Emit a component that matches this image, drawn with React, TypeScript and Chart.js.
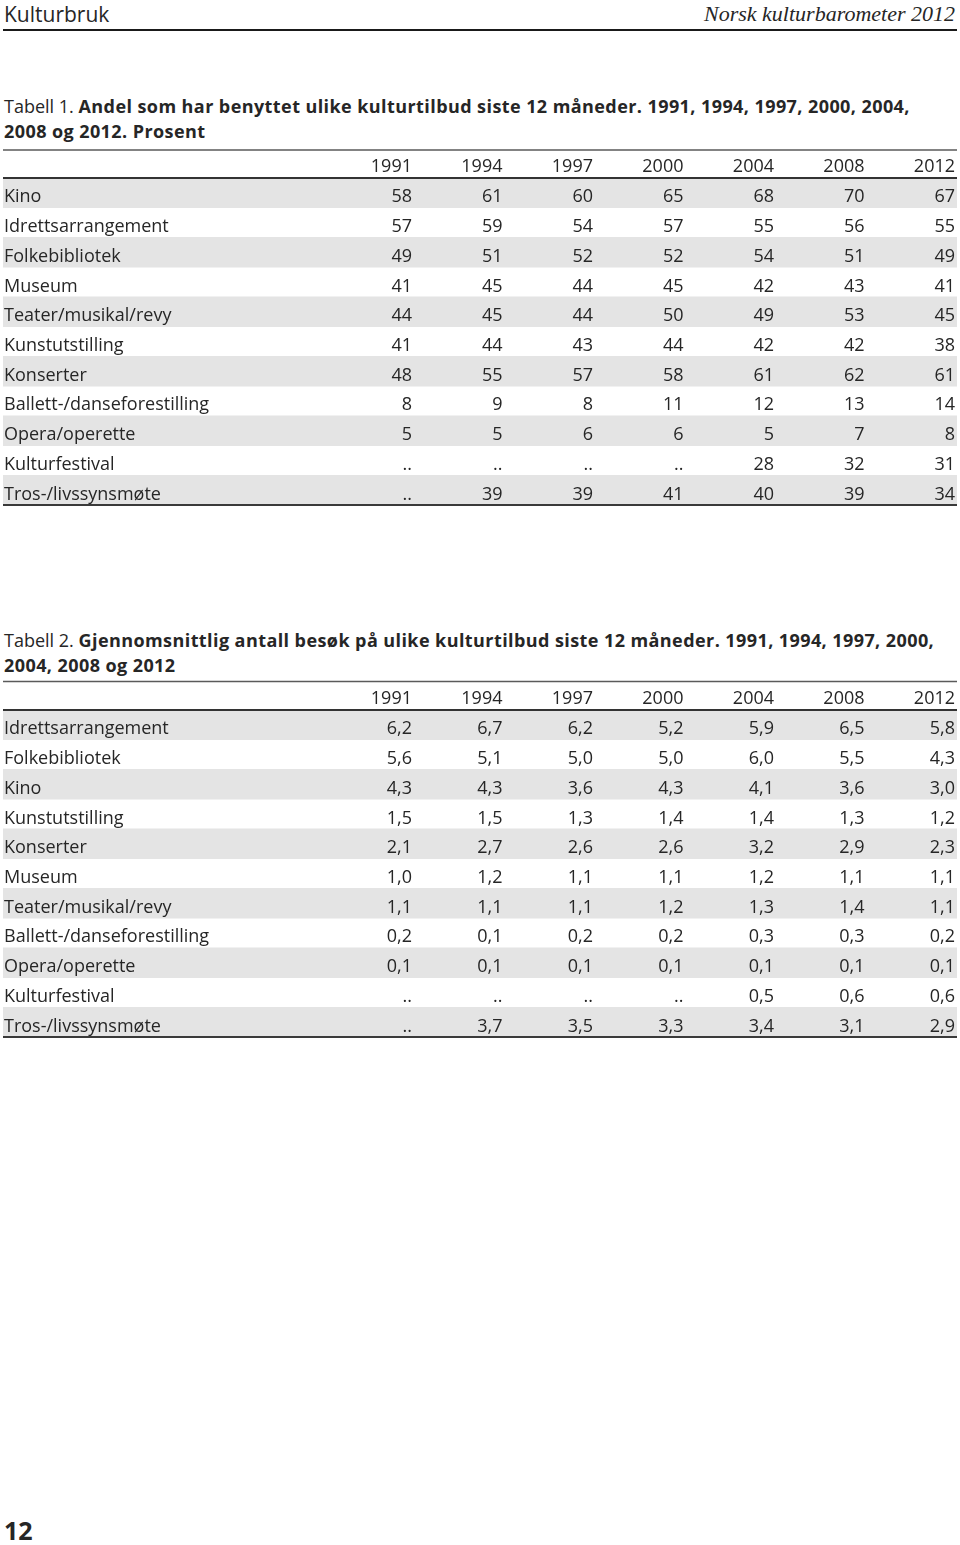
import React, { useEffect, useRef } from 'react';
import { Chart, registerables } from 'chart.js';

Chart.register(...registerables);

// ---------- data ----------
const years = ['1991', '1994', '1997', '2000', '2004', '2008', '2012'];

const t1Rows = [
  'Kino',
  'Idrettsarrangement',
  'Folkebibliotek',
  'Museum',
  'Teater/musikal/revy',
  'Kunstutstilling',
  'Konserter',
  'Ballett-/danseforestilling',
  'Opera/operette',
  'Kulturfestival',
  'Tros-/livssynsmøte',
];
const t1v1991 = [58, 57, 49, 41, 44, 41, 48, 8, 5, null, null];
const t1v1994 = [61, 59, 51, 45, 45, 44, 55, 9, 5, null, 39];
const t1v1997 = [60, 54, 52, 44, 44, 43, 57, 8, 6, null, 39];
const t1v2000 = [65, 57, 52, 45, 50, 44, 58, 11, 6, null, 41];
const t1v2004 = [68, 55, 54, 42, 49, 42, 61, 12, 5, 28, 40];
const t1v2008 = [70, 56, 51, 43, 53, 42, 62, 13, 7, 32, 39];
const t1v2012 = [67, 55, 49, 41, 45, 38, 61, 14, 8, 31, 34];

const t2Rows = [
  'Idrettsarrangement',
  'Folkebibliotek',
  'Kino',
  'Kunstutstilling',
  'Konserter',
  'Museum',
  'Teater/musikal/revy',
  'Ballett-/danseforestilling',
  'Opera/operette',
  'Kulturfestival',
  'Tros-/livssynsmøte',
];
const t2v1991 = [6.2, 5.6, 4.3, 1.5, 2.1, 1.0, 1.1, 0.2, 0.1, null, null];
const t2v1994 = [6.7, 5.1, 4.3, 1.5, 2.7, 1.2, 1.1, 0.1, 0.1, null, 3.7];
const t2v1997 = [6.2, 5.0, 3.6, 1.3, 2.6, 1.1, 1.1, 0.2, 0.1, null, 3.5];
const t2v2000 = [5.2, 5.0, 4.3, 1.4, 2.6, 1.1, 1.2, 0.2, 0.1, null, 3.3];
const t2v2004 = [5.9, 6.0, 4.1, 1.4, 3.2, 1.2, 1.3, 0.3, 0.1, 0.5, 3.4];
const t2v2008 = [6.5, 5.5, 3.6, 1.3, 2.9, 1.1, 1.4, 0.3, 0.1, 0.6, 3.1];
const t2v2012 = [5.8, 4.3, 3.0, 1.2, 2.3, 1.1, 1.1, 0.2, 0.1, 0.6, 2.9];

const t1Cols = [t1v1991, t1v1994, t1v1997, t1v2000, t1v2004, t1v2008, t1v2012];
const t2Cols = [t2v1991, t2v1994, t2v1997, t2v2000, t2v2004, t2v2008, t2v2012];

// ---------- styles ----------
const FONT = '"Open Sans", "Noto Sans", sans-serif';
const TEXT = '#262626';
const STRIPE = '#e4e4e4';
const X_MIN = -3.519;
const X_MAX = 7.022;

if (typeof document !== 'undefined') {
  document.body.style.margin = '0';
}

type Props = {
  rows: string[];
  cols: (number | null)[][];
  decimals: number;
  topRuleY: number;
};

function TableChart({ rows, cols, decimals, topRuleY }: Props) {
  const ref = useRef<HTMLCanvasElement | null>(null);

  useEffect(() => {
    if (!ref.current) return;
    const fmt = (v: number | null) =>
      v == null ? '..' : decimals > 0 ? v.toFixed(decimals).replace('.', ',') : String(v);

    const cellPlugin = {
      id: 'tableCells',
      afterDatasetsDraw(chart: any) {
        const { ctx, chartArea: ca, scales } = chart;
        const x = scales.x;
        const y = scales.y;
        ctx.save();
        ctx.font = `18px ${FONT}`;
        ctx.fillStyle = TEXT;
        ctx.textBaseline = 'alphabetic';

        const headBase = ca.top - 6;
        ctx.textAlign = 'right';
        years.forEach((yr, j) => ctx.fillText(yr, x.getPixelForValue(j + 1), headBase));

        rows.forEach((name, i) => {
          const base = y.getPixelForValue(i) + 9.5;
          ctx.textAlign = 'left';
          ctx.fillText(name, ca.left + 1, base);
          ctx.textAlign = 'right';
          cols.forEach((col, j) => {
            ctx.fillText(fmt(col[i]), x.getPixelForValue(j + 1), base);
          });
        });

        const rule = (yy: number, w: number, c: string) => {
          ctx.beginPath();
          ctx.strokeStyle = c;
          ctx.lineWidth = w;
          ctx.moveTo(ca.left, yy);
          ctx.lineTo(ca.right, yy);
          ctx.stroke();
        };
        rule(topRuleY, 1.3, '#5a5a5a');
        rule(ca.top, 2, '#333333');
        rule(ca.bottom, 2, '#3a3a3a');
        ctx.restore();
      },
    };

    const chart = new Chart(ref.current, {
      type: 'bar',
      data: {
        labels: rows,
        datasets: [
          {
            data: rows.map((_, i) => (i % 2 === 0 ? [X_MIN, X_MAX] : null)) as any,
            backgroundColor: STRIPE,
            borderWidth: 0,
            barPercentage: 1,
            categoryPercentage: 1,
          },
        ],
      },
      options: {
        indexAxis: 'y',
        responsive: false,
        animation: false,
        events: [],
        layout: { padding: { top: 30, bottom: 3, left: 3, right: 3 } },
        scales: {
          x: { type: 'linear', min: X_MIN, max: X_MAX, display: false },
          y: { type: 'category', display: false, offset: true },
        },
        plugins: {
          legend: { display: false },
          tooltip: { enabled: false },
        },
      },
      plugins: [cellPlugin],
    });
    return () => chart.destroy();
  }, [rows, cols, decimals, topRuleY]);

  return <canvas ref={ref} width={960} height={360} style={{ display: 'block' }} />;
}

export default function App() {
  useEffect(() => {
    document.body.style.margin = '0';
  }, []);
  const abs = (top: number, extra: React.CSSProperties = {}): React.CSSProperties => ({
    position: 'absolute',
    top,
    left: 4,
    ...extra,
  });
  const boldStyle: React.CSSProperties = { fontWeight: 700, letterSpacing: '0.42px' };
  return (
    <div
      style={{
        position: 'relative',
        width: 960,
        height: 1545,
        background: '#fff',
        fontFamily: FONT,
        color: TEXT,
        overflow: 'hidden',
      }}
    >
      <div style={abs(2, { fontSize: 21, lineHeight: '24px', fontWeight: 400 })}>Kulturbruk</div>
      <div
        style={{
          position: 'absolute',
          top: 1.6,
          right: 5,
          fontFamily: '"Liberation Serif", serif',
          fontStyle: 'italic',
          fontSize: 22,
          lineHeight: '24px',
        }}
      >
        Norsk kulturbarometer 2012
      </div>
      <div style={{ position: 'absolute', top: 29, left: 3, width: 954, height: 2, background: '#1a1a1a' }} />

      <div style={abs(93.5, { fontSize: 18, lineHeight: '25px', whiteSpace: 'nowrap' })}>
        Tabell 1.{' '}
        <span style={boldStyle}>
          Andel som har benyttet ulike kulturtilbud siste 12 måneder. 1991, 1994, 1997, 2000, 2004,
          <br />
          2008 og 2012. Prosent
        </span>
      </div>
      <div style={{ position: 'absolute', top: 148, left: 0 }}>
        <TableChart rows={t1Rows} cols={t1Cols} decimals={0} topRuleY={2} />
      </div>

      <div style={abs(627.5, { fontSize: 18, lineHeight: '25px', whiteSpace: 'nowrap' })}>
        Tabell 2.{' '}
        <span style={boldStyle}>
          Gjennomsnittlig antall besøk på ulike kulturtilbud siste 12 måneder. 1991, 1994, 1997, 2000,
          <br />
          2004, 2008 og 2012
        </span>
      </div>
      <div style={{ position: 'absolute', top: 680, left: 0 }}>
        <TableChart rows={t2Rows} cols={t2Cols} decimals={1} topRuleY={1.5} />
      </div>

      <div style={abs(1515, { fontSize: 25, lineHeight: '30px', fontWeight: 700 })}>12</div>
    </div>
  );
}
